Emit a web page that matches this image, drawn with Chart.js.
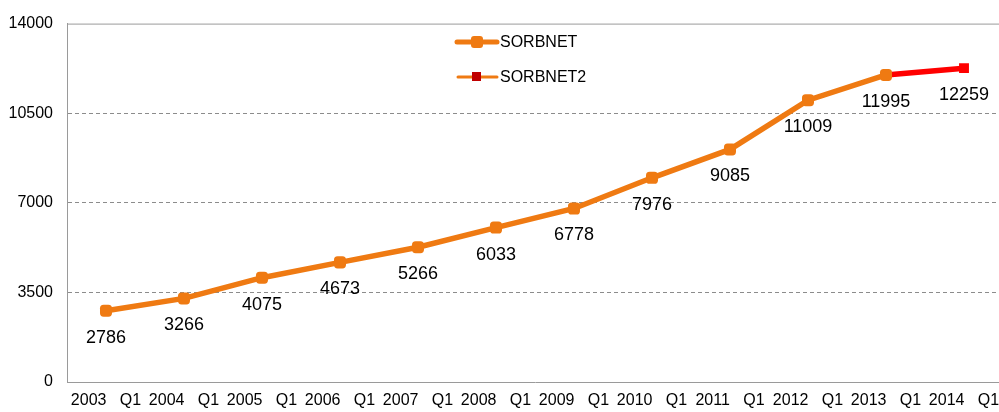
<!DOCTYPE html>
<html>
<head>
<meta charset="utf-8">
<script src="https://cdn.jsdelivr.net/npm/chart.js@4"></script>
<style>
  html, body { margin: 0; padding: 0; background: #fff; overflow: hidden; }
  #wrap { width: 1010px; height: 412px; }
</style>
</head>
<body>
<div id="wrap"><canvas id="chart" width="1010" height="412"></canvas></div>
<script>
// categories + values
const years = ['2003','2004','2005','2006','2007','2008','2009','2010','2011','2012','2013','2014'];
const labels = years.map(y => y + '   Q1');
const sorbnet = [2786, 3266, 4075, 4673, 5266, 6033, 6778, 7976, 9085, 11009, 11995, null];
const sorbnet2 = [null, null, null, null, null, null, null, null, null, null, 11995, 12259];
const yTicks = [0, 3500, 7000, 10500, 14000];

const ORANGE = '#EF7A12';
const RED = '#FF0000';
const FONT = '"Liberation Sans", Arial, sans-serif';

// valeurs sous chaque point
const valueLabels = {
    id: 'valueLabels',
    afterDatasetsDraw(chart) {
        const { ctx } = chart;
        ctx.save();
        ctx.font = '18px ' + FONT;
        ctx.fillStyle = '#000';
        ctx.textAlign = 'center';
        ctx.textBaseline = 'middle';
        const meta0 = chart.getDatasetMeta(0);
        const meta1 = chart.getDatasetMeta(1);
        labels.forEach((_, i) => {
            let val = sorbnet[i], pt = meta0.data[i];
            if (val == null) { val = sorbnet2[i]; pt = meta1.data[i]; }
            if (val == null) return;
            ctx.fillText(String(val), pt.x, pt.y + 27);
        });
        ctx.restore();
    }
};

// cadre du haut + légende
const frameLegend = {
    id: 'frameLegend',
    afterDraw(chart) {
        const { ctx, chartArea: { top, left, right } } = chart;
        ctx.save();
        ctx.strokeStyle = '#9a9a9a';
        ctx.lineWidth = 1;
        ctx.beginPath();
        ctx.moveTo(left, top + 0.5);
        ctx.lineTo(right, top + 0.5);
        ctx.stroke();

        // SORBNET
        ctx.strokeStyle = ORANGE;
        ctx.lineWidth = 5;
        ctx.lineCap = 'round';
        ctx.beginPath();
        ctx.moveTo(457, 42); ctx.lineTo(497, 42);
        ctx.stroke();
        ctx.fillStyle = ORANGE;
        ctx.beginPath();
        ctx.roundRect(471, 36, 12, 12, 3);
        ctx.fill();

        // SORBNET2
        ctx.lineWidth = 3;
        ctx.beginPath();
        ctx.moveTo(458, 77); ctx.lineTo(497, 77);
        ctx.stroke();
        ctx.fillStyle = '#C00000';
        ctx.fillRect(472, 72, 9, 9);

        ctx.fillStyle = '#000';
        ctx.font = '16px ' + FONT;
        ctx.textBaseline = 'middle';
        ctx.textAlign = 'left';
        ctx.fillText('SORBNET', 500, 43);
        ctx.fillText('SORBNET2', 500, 78);
        ctx.restore();
    }
};

new Chart(document.getElementById('chart'), {
    type: 'line',
    data: {
        labels: labels,
        datasets: [
            {
                label: 'SORBNET',
                data: sorbnet,
                borderColor: ORANGE,
                backgroundColor: ORANGE,
                borderWidth: 5.5,
                pointStyle: 'rectRounded',
                pointRadius: 7,
                pointBorderWidth: 0,
                tension: 0,
                spanGaps: false
            },
            {
                label: 'SORBNET2',
                data: sorbnet2,
                borderColor: RED,
                backgroundColor: RED,
                borderWidth: 5.5,
                pointStyle: 'rect',
                pointRadius: sorbnet2.map((v, i) => i === sorbnet2.length - 1 ? 7 : 0),
                pointBorderWidth: 0,
                tension: 0
            }
        ]
    },
    options: {
        responsive: false,
        animation: false,
        layout: { padding: { top: 20, left: 0, right: 5, bottom: 0 } },
        plugins: { legend: { display: false }, tooltip: { enabled: false } },
        scales: {
            x: {
                offset: true,
                grid: { display: false, drawTicks: false },
                border: { display: true, color: '#9a9a9a', width: 1 },
                ticks: {
                    color: '#000',
                    padding: 9,
                    maxRotation: 0,
                    autoSkip: false,
                    font: { family: FONT, size: 16 }
                },
                afterFit(scale) { scale.height = 30; }
            },
            y: {
                min: 0,
                max: 14000,
                afterBuildTicks(scale) { scale.ticks = yTicks.map(v => ({ value: v })); },
                grid: {
                    drawTicks: false,
                    color: ctx => (ctx.tick && (ctx.tick.value === 0 || ctx.tick.value === 14000)) ? 'rgba(0,0,0,0)' : '#8c8c8c',
                    lineWidth: 1
                },
                border: { display: true, color: '#9a9a9a', width: 1, dash: [4, 3] },
                ticks: {
                    color: '#000',
                    padding: 14,
                    font: { family: FONT, size: 16 },
                    callback: v => String(v)
                },
                afterFit(scale) { scale.width = 67; }
            }
        }
    },
    plugins: [valueLabels, frameLegend]
});
</script>
</body>
</html>
